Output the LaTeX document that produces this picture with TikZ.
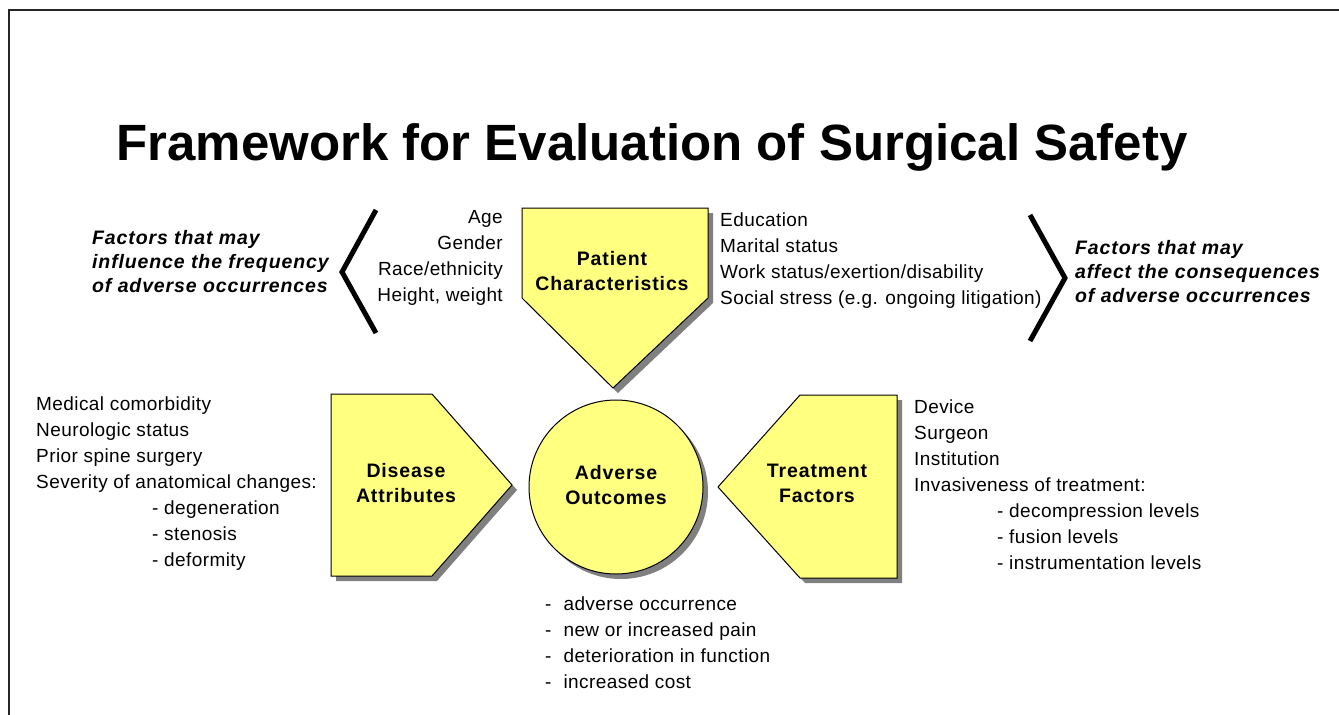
\documentclass[tikz,border=0pt]{standalone}
\usepackage{fontspec}
\setmainfont{Liberation Sans}
\definecolor{boxyellow}{RGB}{255,255,128}
\definecolor{shadowgray}{RGB}{128,128,128}

\tikzset{
  drop/.style={preaction={fill=shadowgray,transform canvas={shift={(5pt,-5pt)}}}},
  shapebox/.style={draw=black,line width=1pt,fill=boxyellow,drop},
  bracket/.style={draw=black,line width=5pt,miter limit=20},
  boxlabel/.style={font=\fontsize{19.5}{25}\selectfont\bfseries\addfontfeatures{LetterSpace=4.5},align=center},
  listtext/.style={font=\fontsize{19}{26}\selectfont\addfontfeatures{LetterSpace=2.2},inner sep=0pt},
  note/.style={font=\fontsize{19.5}{24}\selectfont\bfseries\itshape\addfontfeatures{LetterSpace=4.5},inner sep=0pt,align=left}
}

\begin{document}
\begin{tikzpicture}[x=1pt,y=-1pt]
\useasboundingbox (0,0) rectangle (1339,715);
\draw[line width=2pt,black!85] (9,716) -- (9,10) -- (1340,10);

\node[anchor=base,font=\fontsize{51}{60}\selectfont\bfseries] (title) at (652,160)
  {Framework for Evaluation of Surgical Safety};

% the four shapes
\draw[shapebox] (522,208) -- (708,208) -- (708,298) -- (613,388) -- (522,298) -- cycle;
\draw[shapebox] (331,394) -- (432,394) -- (512,485) -- (432,576) -- (331,576) -- cycle;
\draw[shapebox] (897,395) -- (800,395) -- (718,487) -- (800,578) -- (897,578) -- cycle;
\node[shapebox,circle,minimum size=174pt,inner sep=0pt] (adverse) at (616,487) {};

\node[boxlabel] (patient) at (612,271) {Patient\\Characteristics};
\node[boxlabel] (disease) at (406,483) {Disease\\Attributes};
\node[boxlabel] (advlabel) at ([yshift=2pt]adverse.center) {Adverse\\Outcomes};
\node[boxlabel] (treatment) at (817,483) {Treatment\\Factors};

% brackets
\draw[bracket] (376,210) -- (342,272) -- (376,333);
\draw[bracket] (1030,215) -- (1065,278) -- (1030,341);

\node[note,anchor=north west] (leftnote) at (92,230)
  {Factors that may\\influence the frequency\\of adverse occurrences};
\node[note,anchor=north west] (rightnote) at (1075,240)
  {Factors that may\\affect the consequences\\of adverse occurrences};

\node[listtext,align=right,anchor=north east] (agelist) at (503,210)
  {Age\\Gender\\Race/ethnicity\\Height, weight};
\node[listtext,align=left,anchor=north west] (edulist) at (720,213)
  {Education\\Marital status\\Work status/exertion/disability\\Social stress (e.g. ongoing litigation)};

\node[listtext,align=left,anchor=north west] (diseaselist) at (36,397)
  {Medical comorbidity\\Neurologic status\\Prior spine surgery\\Severity of anatomical changes:};
\node[listtext,align=left,anchor=north west] (diseasesub) at (152,501)
  {- degeneration\\- stenosis\\- deformity};

\node[listtext,align=left,anchor=north west] (treatlist) at (914,400)
  {Device\\Surgeon\\Institution\\Invasiveness of treatment:};
\node[listtext,align=left,anchor=north west] (treatsub) at (997,504)
  {- decompression levels\\- fusion levels\\- instrumentation levels};

\node[listtext,align=left,anchor=north west] (outcomelist) at (545,597)
  {-\hspace{12pt}adverse occurrence\\-\hspace{12pt}new or increased pain\\-\hspace{12pt}deterioration in function\\-\hspace{12pt}increased cost};
\end{tikzpicture}
\end{document}
